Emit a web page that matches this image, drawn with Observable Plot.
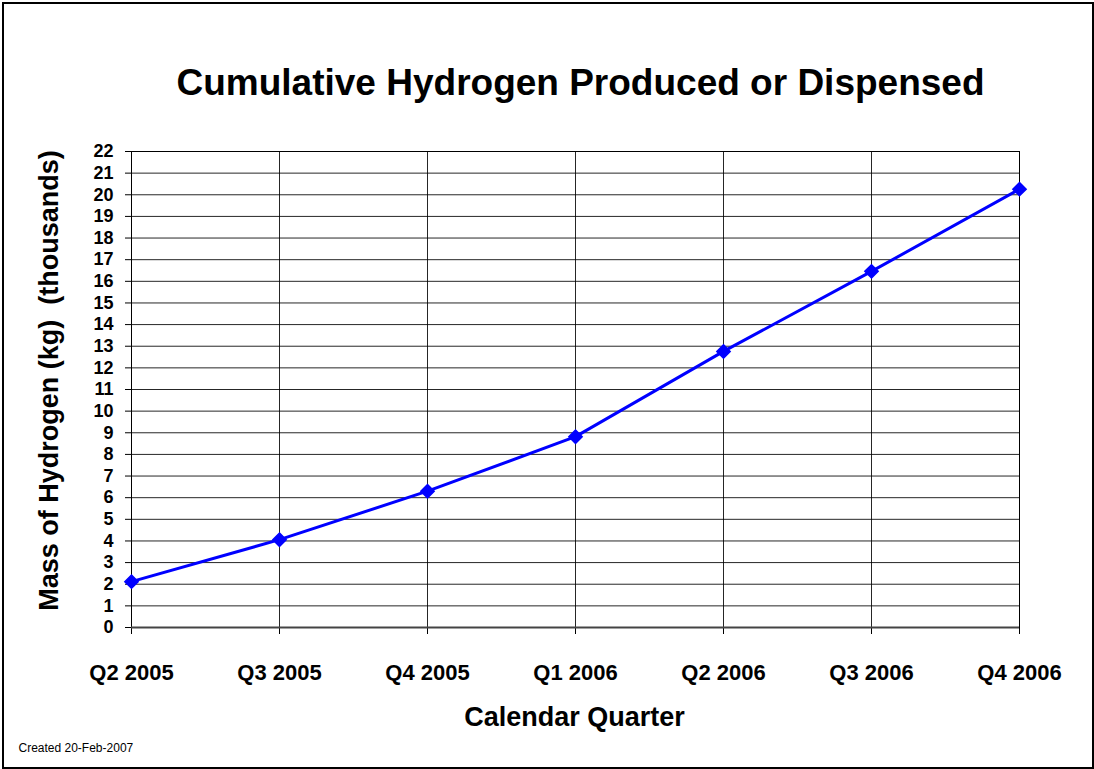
<!DOCTYPE html>
<html>
<head>
<meta charset="utf-8">
<script src="https://cdn.jsdelivr.net/npm/d3@7"></script>
<script src="https://cdn.jsdelivr.net/npm/@observablehq/plot@0.6"></script>
<style>
  body { margin: 0; background: #fff; }
  #wrap { position: relative; width: 1094px; height: 769px; }
  #wrap svg { display: block; }
  #border { position: absolute; left: 2px; top: 2px; width: 1088px; height: 763px; border: 2px solid #000; pointer-events: none; }
</style>
</head>
<body>
<div id="wrap"><div id="border"></div></div>
<script>
const quarters = ["Q2 2005", "Q3 2005", "Q4 2005", "Q1 2006", "Q2 2006", "Q3 2006", "Q4 2006"];
const massThousands = [2.12, 4.06, 6.3, 8.82, 12.76, 16.46, 20.26];
const yTicks = d3.range(0, 23);
const titleText = "Cumulative Hydrogen Produced or Dispensed";
const xLabel = "Calendar Quarter";
const yLabel = "Mass of Hydrogen (kg)  (thousands)";
const createdText = "Created 20-Feb-2007";

const data = quarters.map((q, i) => ({quarter: q, mass: massThousands[i]}));
const font = "Liberation Sans, Arial, Helvetica, sans-serif";

const chart = Plot.plot({
  width: 1094,
  height: 769,
  marginLeft: 131,
  marginRight: 75,
  marginTop: 151,
  marginBottom: 142,
  style: {fontFamily: font, background: "#fff", color: "#000"},
  x: {type: "point", domain: quarters, padding: 0},
  y: {domain: [0, 22]},
  marks: [
    Plot.gridY(yTicks, {stroke: "#000", strokeOpacity: 0.85, strokeWidth: 1}),
    Plot.gridX(quarters, {stroke: "#000", strokeOpacity: 0.85, strokeWidth: 1}),
    Plot.frame({stroke: "#000", strokeWidth: 1}),
    Plot.axisY(yTicks, {tickSize: 6, tickPadding: 12, fontSize: 18, fontWeight: "bold", label: null, stroke: "#000"}),
    Plot.axisX(quarters, {tickSize: 7, tickPadding: 30, fontSize: 22, fontWeight: "bold", label: null, stroke: "#000"}),
    Plot.ruleY([0], {stroke: "#444", strokeWidth: 2}),
    Plot.line(data, {x: "quarter", y: "mass", stroke: "#0000ff", strokeWidth: 3}),
    Plot.dot(data, {x: "quarter", y: "mass", symbol: "diamond2", fill: "#0000ff", stroke: "#0000ff", r: 6}),
    Plot.text([titleText], {frameAnchor: "top", dx: 5, dy: -68, fontSize: 37, fontWeight: "bold", lineAnchor: "middle", fill: "#000"}),
    Plot.text([xLabel], {frameAnchor: "bottom", dx: -1, dy: 90, fontSize: 27, fontWeight: "bold", lineAnchor: "middle", fill: "#000"}),
    Plot.text([yLabel], {frameAnchor: "left", dx: -82, dy: -9, rotate: -90, fontSize: 27, fontWeight: "bold", textAnchor: "middle", lineAnchor: "middle", fill: "#000"}),
    Plot.text([createdText], {frameAnchor: "bottom-left", dx: -113, dy: 121, fontSize: 12, textAnchor: "start", lineAnchor: "middle", fill: "#000"})
  ]
});
document.getElementById("wrap").appendChild(chart);
</script>
</body>
</html>
